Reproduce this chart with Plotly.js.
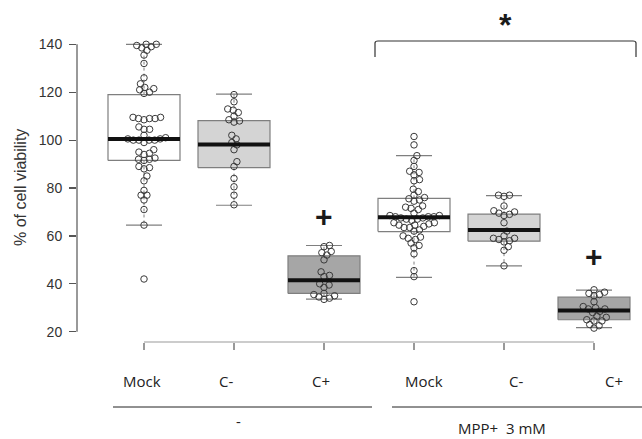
<!DOCTYPE html>
<html>
<head>
<meta charset="utf-8">
<script src="https://cdn.plot.ly/plotly-3.0.1.min.js"></script>
<style>html,body{margin:0;padding:0;background:#fff;}#chart{width:642px;height:439px;}</style>
</head>
<body>
<div id="chart"></div>
<script>
// ---- data ----
const groupLabels = ['Mock', 'C-', 'C+', 'Mock', 'C-', 'C+'];
const treatmentLabels = ['-', 'MPP+  3 mM'];
const yTitle = '% of cell viability';
const yTicks = [20, 40, 60, 80, 100, 120, 140];

const mockNo = [140, 140, 139.5, 139, 138.5, 137.5, 135.5, 132, 126, 123.5, 122, 121.5, 121, 120, 119.5,
  109.5, 109, 109, 108.5, 109, 109.5, 105.5, 104.5, 104.5, 102, 101, 100.5, 100, 100, 100, 100.5, 100, 99,
  96, 95, 94.5, 94, 92.5, 92, 91.5, 92, 89, 88.5, 88, 85, 83, 79, 77, 77, 75, 71, 64.5, 42];
const cNegNo = [119, 116, 113, 112.5, 111.5, 110, 108.5, 108, 107.5, 102, 100.5, 99, 98, 96, 91, 89, 84, 80.5, 77, 73];
const cPosNo = [56, 55.5, 53.5, 53, 52, 50, 45, 43.5, 43, 40, 39.5, 38.5, 36, 35.5, 35, 34.5, 34, 33.5];
const mockMpp = [101.5, 98, 93.5, 91.5, 89, 87, 86.5, 85.5, 83.5, 83, 79.5, 78.5, 77, 76, 75.5, 75, 74.5, 72.5,
  72, 71.5, 71, 69.5, 68.5, 68.5, 68, 68, 68, 67.5, 67.5, 67, 67, 66.5, 65.5, 65.5, 65, 64.5, 64.5, 64, 63.5,
  63.5, 62.5, 62, 60, 59.5, 59, 58.5, 57, 56, 55, 52.5, 45.5, 43, 32.5];
const cNegMpp = [77, 77, 76.5, 72.5, 70.5, 70, 69.5, 69, 68.5, 65.5, 62, 60, 59, 59, 58.5, 58, 57.5, 55.5, 54, 47.5];
const cPosMpp = [37.5, 36.5, 36, 35.5, 35, 32.5, 30.5, 30, 29.5, 29.5, 28.5, 28, 26.5, 26, 25, 24.5, 24.5, 23, 22.5, 21.5];

// box statistics
const whiskLo = [64.5, 72.8, 33.6, 42.7, 47.5, 21.7];
const q1 = [91.5, 88.5, 36, 61.8, 57.8, 25];
const med = [100.5, 98.2, 41.5, 67.8, 62.5, 28.9];
const q3 = [119, 108.1, 51.7, 75.7, 69.1, 34.4];
const whiskHi = [140, 119.2, 56, 93.5, 76.8, 37.4];

// significance marks
const plusGroups = [2, 5];
const plusLevels = [68.3, 51.3];

// ---- layout constants ----
const W = 642, H = 439;
const M = {l: 77, r: 0, t: 10, b: 97};
const pxPerUnitY = 2.395, pxPerUnitX = 90;
const plotH = H - M.t - M.b, plotW = W - M.l - M.r;
const yBottom = 140 - ((H - M.b) - 44.3) / pxPerUnitY;
const yRange = [yBottom, yBottom + plotH / pxPerUnitY];
const xRange = [-(144 - M.l) / pxPerUnitX, (W - M.r - 144) / pxPerUnitX];
const boxFill = ['#ffffff', '#d4d4d4', '#a6a6a6', '#ffffff', '#d4d4d4', '#a6a6a6'];
const edge = '#7f7f7f';
const halfBox = 0.4, halfCap = 0.2;

const groupsData = [mockNo, cNegNo, cPosNo, mockMpp, cNegMpp, cPosMpp];

// beeswarm offsets (pixel geometry -> data units)
function swarm(vals, diam) {
  const idx = vals.map((v, i) => i).sort((a, b) => vals[a] - vals[b]);
  const placed = [];
  const out = new Array(vals.length).fill(0);
  idx.forEach(i => {
    const y = vals[i] * pxPerUnitY;
    const near = placed.filter(p => Math.abs(p.y - y) < diam);
    const cands = [0];
    near.forEach(p => {
      const dx = Math.sqrt(diam * diam - (p.y - y) * (p.y - y));
      cands.push(p.x + dx + 0.01, p.x - dx - 0.01);
    });
    cands.sort((a, b) => Math.abs(a) - Math.abs(b));
    let best = 0;
    for (const c of cands) {
      if (near.every(p => (p.x - c) ** 2 + (p.y - y) ** 2 >= diam * diam - 0.001)) { best = c; break; }
    }
    placed.push({x: best, y: y});
    out[i] = best / pxPerUnitX;
  });
  return out;
}

const traces = [];
groupsData.forEach((vals, g) => {
  traces.push({
    type: 'scatter', mode: 'lines', hoverinfo: 'skip', showlegend: false,
    x: [g - halfBox, g + halfBox, g + halfBox, g - halfBox, g - halfBox],
    y: [q1[g], q1[g], q3[g], q3[g], q1[g]],
    fill: 'toself', fillcolor: boxFill[g], line: {color: edge, width: 1.2}
  });
  traces.push({
    type: 'scatter', mode: 'lines', hoverinfo: 'skip', showlegend: false,
    x: [g, g, null, g, g], y: [q3[g], whiskHi[g], null, q1[g], whiskLo[g]],
    line: {color: edge, width: 1, dash: '3px,3px'}
  });
  traces.push({
    type: 'scatter', mode: 'lines', hoverinfo: 'skip', showlegend: false,
    x: [g - halfCap, g + halfCap, null, g - halfCap, g + halfCap],
    y: [whiskHi[g], whiskHi[g], null, whiskLo[g], whiskLo[g]],
    line: {color: edge, width: 1.2}
  });
});
groupsData.forEach((vals, g) => {
  const off = swarm(vals, 5.6);
  traces.push({
    type: 'scatter', mode: 'markers', showlegend: false,
    x: vals.map((v, i) => g + off[i]), y: vals,
    marker: {symbol: 'circle-open', size: 6.5, color: '#3a3a3a', line: {width: 1, color: '#3a3a3a'}}
  });
});
groupsData.forEach((vals, g) => {
  traces.push({
    type: 'scatter', mode: 'lines', hoverinfo: 'skip', showlegend: false,
    x: [g - halfBox, g + halfBox], y: [med[g], med[g]],
    line: {color: '#111111', width: 4}
  });
});

const pxToPaperX = px => (px - M.l) / plotW;
const pxToPaperY = py => (H - M.b - py) / plotH;

const labelShift = [-2, -8, -3, 10, 12, 20];
const annotations = groupLabels.map((t, i) => ({
  text: t, x: i, xref: 'x', xanchor: 'center', y: 0, yref: 'paper', yanchor: 'middle', yshift: -39, xshift: labelShift[i],
  showarrow: false, font: {family: 'Open Sans, Noto Sans, sans-serif', size: 15, color: '#222'}
}));
annotations.push({text: treatmentLabels[0], xref: 'paper', x: pxToPaperX(238), xanchor: 'center', yref: 'paper', y: pxToPaperY(421),
  yanchor: 'middle', showarrow: false, font: {family: 'Open Sans, sans-serif', size: 15, color: '#222'}});
annotations.push({text: treatmentLabels[1], xref: 'paper', x: pxToPaperX(502), xanchor: 'center', yref: 'paper', y: pxToPaperY(428),
  yanchor: 'middle', showarrow: false, font: {family: 'Open Sans, sans-serif', size: 15, color: '#222'}});
annotations.push({text: yTitle, xref: 'paper', x: pxToPaperX(20), xanchor: 'center', yref: 'paper', y: pxToPaperY(188),
  yanchor: 'middle', textangle: -90, showarrow: false, font: {family: 'Liberation Sans, Arial', size: 16, color: '#333'}});
plusGroups.forEach((g, k) => annotations.push({
  text: '<b>+</b>', x: g, xref: 'x', xanchor: 'center', y: plusLevels[k], yref: 'y', yanchor: 'middle', showarrow: false,
  font: {family: 'Liberation Sans, Arial', size: 30, color: '#1a1a1a'}
}));
annotations.push({text: '<b>*</b>', xref: 'x', x: (2.567 + 5.467) / 2, xanchor: 'center', yref: 'y', y: 148, yanchor: 'middle',
  showarrow: false, font: {family: 'Liberation Sans, Arial', size: 32, color: '#1a1a1a'}});

const shapes = [
  {type: 'line', xref: 'paper', x0: 0, x1: 0, yref: 'y', y0: yTicks[0], y1: yTicks[yTicks.length - 1],
    line: {color: '#555', width: 1.2}},
  {type: 'line', xref: 'x', x0: 0, x1: groupLabels.length - 1, yref: 'paper', y0: 0, y1: 0,
    line: {color: '#999', width: 1.2}},
  {type: 'line', xref: 'paper', x0: pxToPaperX(113), x1: pxToPaperX(372), yref: 'paper', y0: pxToPaperY(407), y1: pxToPaperY(407),
    line: {color: '#222', width: 1}},
  {type: 'line', xref: 'paper', x0: pxToPaperX(392), x1: 1, yref: 'paper', y0: pxToPaperY(407), y1: pxToPaperY(407),
    line: {color: '#222', width: 1}},
  {type: 'path', xref: 'paper', yref: 'paper',
    path: `M ${pxToPaperX(375)} ${pxToPaperY(57)} L ${pxToPaperX(375)} ${pxToPaperY(43)} Q ${pxToPaperX(375)} ${pxToPaperY(41)} ${pxToPaperX(378)} ${pxToPaperY(41)} L ${pxToPaperX(633)} ${pxToPaperY(41)} Q ${pxToPaperX(636)} ${pxToPaperY(41)} ${pxToPaperX(636)} ${pxToPaperY(43)} L ${pxToPaperX(636)} ${pxToPaperY(57)}`,
    line: {color: '#333', width: 1.2}}
];

const layout = {
  width: W, height: H, margin: M, paper_bgcolor: '#fff', plot_bgcolor: 'rgba(0,0,0,0)',
  showlegend: false,
  xaxis: {range: xRange, tickvals: groupLabels.map((t, i) => i), showticklabels: false, ticks: 'outside',
    ticklen: 7, tickcolor: '#999', tickwidth: 1.2, showgrid: false, zeroline: false, showline: false, fixedrange: true},
  yaxis: {range: yRange, tickvals: yTicks, ticks: 'outside', ticklen: 7, tickcolor: '#555', tickwidth: 1.2,
    ticklabelstandoff: 4, showgrid: false, zeroline: false, showline: false,
    tickfont: {family: 'Liberation Sans, Arial', size: 14, color: '#333'}},
  annotations: annotations, shapes: shapes
};

Plotly.newPlot('chart', traces, layout, {displayModeBar: false, staticPlot: true});
</script>
</body>
</html>
